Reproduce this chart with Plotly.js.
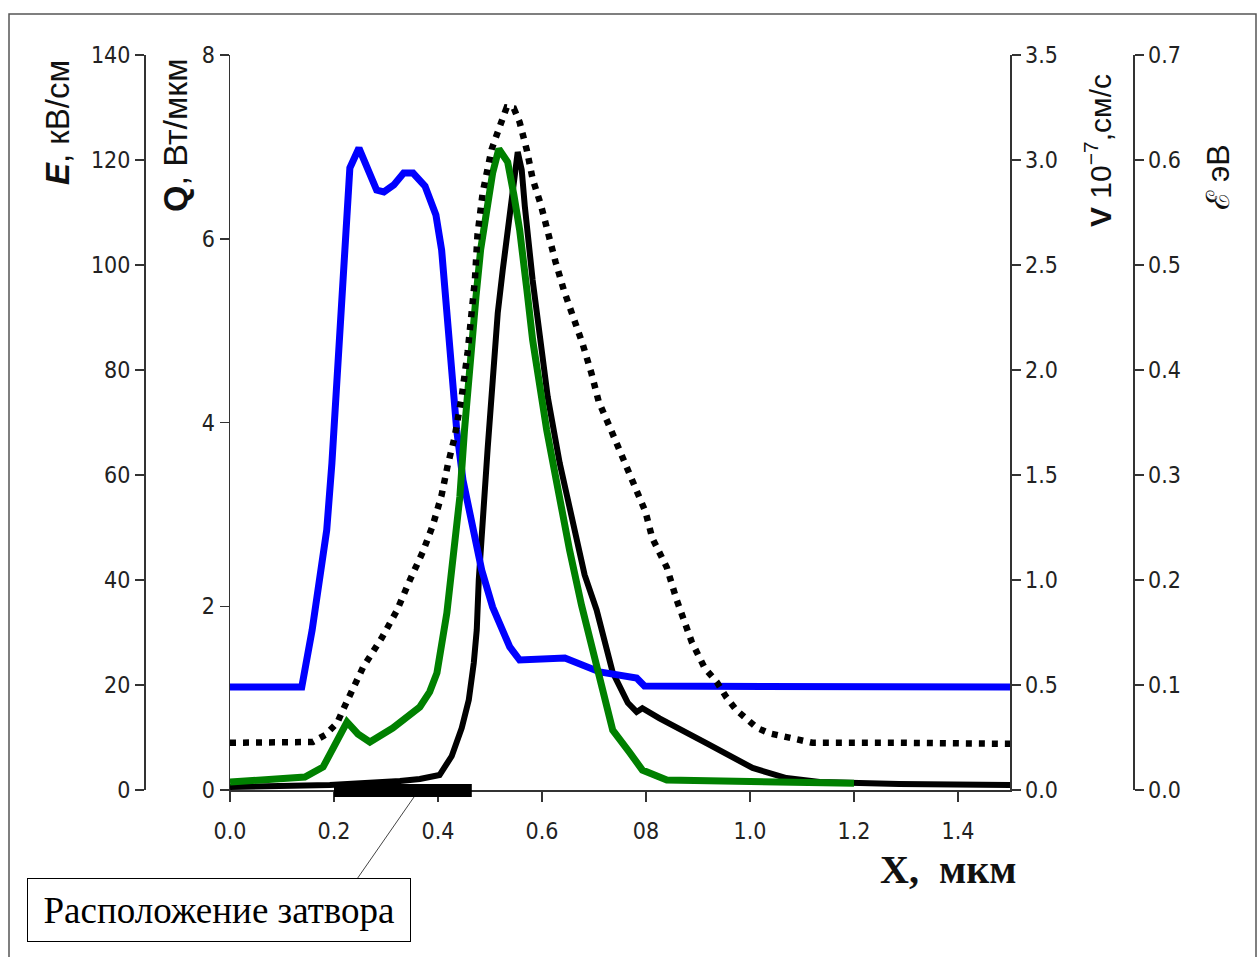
<!DOCTYPE html>
<html><head><meta charset="utf-8">
<script src="https://cdn.plot.ly/plotly-3.0.1.min.js"></script>
<style>html,body{margin:0;padding:0;background:#fff}</style>
</head><body><div id="chart" style="width:1257px;height:957px"></div>
<script>
// Position along the channel, µm
const velX = [0, 0.138, 0.158, 0.173, 0.186, 0.196, 0.202, 0.207, 0.215, 0.225, 0.2305, 0.248, 0.265, 0.282, 0.296, 0.315, 0.334, 0.352, 0.375, 0.396, 0.407, 0.413, 0.417, 0.427, 0.436, 0.448, 0.467, 0.484, 0.505, 0.538, 0.557, 0.644, 0.711, 0.782, 0.797, 1.134, 1.5];
// Electron velocity V, 10^7 cm/s (blue)
const velV = [0.49, 0.49, 0.762, 1.0, 1.238, 1.557, 1.795, 2.11, 2.381, 2.748, 2.962, 3.057, 2.952, 2.857, 2.848, 2.881, 2.938, 2.938, 2.876, 2.738, 2.571, 2.381, 2.238, 1.952, 1.714, 1.476, 1.238, 1.048, 0.871, 0.681, 0.619, 0.629, 0.562, 0.533, 0.495, 0.49, 0.49];

const fieldX = [0, 0.096, 0.144, 0.179, 0.202, 0.225, 0.246, 0.269, 0.313, 0.365, 0.384, 0.398, 0.417, 0.428, 0.442, 0.451, 0.461, 0.473, 0.482, 0.496, 0.505, 0.517, 0.534, 0.546, 0.557, 0.571, 0.582, 0.609, 0.634, 0.653, 0.676, 0.705, 0.736, 0.768, 0.793, 0.840, 1.018, 1.2];
// Electric field E, kV/cm (green)
const fieldE = [1.52, 2.29, 2.48, 4.38, 8.95, 12.95, 10.67, 9.14, 11.81, 15.81, 18.7, 22.3, 33.7, 43.2, 55.8, 68.6, 81.3, 93.9, 102.9, 111.05, 117.5, 122.1, 119.6, 113.3, 106.7, 95.2, 85.7, 68.6, 55.2, 45.7, 35.2, 23.4, 11.4, 7.2, 3.8, 1.9, 1.5, 1.3];

const heatX = [0, 0.192, 0.327, 0.365, 0.403, 0.4265, 0.4457, 0.4592, 0.4688, 0.4745, 0.4784, 0.4861, 0.4957, 0.5053, 0.5149, 0.5245, 0.5379, 0.5456, 0.5533, 0.561, 0.567, 0.582, 0.596, 0.611, 0.634, 0.659, 0.682, 0.705, 0.736, 0.765, 0.782, 0.793, 0.826, 0.916, 1.005, 1.070, 1.134, 1.287, 1.5];
// Heat release Q, W/µm (black)
const heatQ = [0.033, 0.054, 0.098, 0.12, 0.163, 0.37, 0.675, 0.98, 1.382, 1.741, 2.286, 3.015, 3.733, 4.463, 5.192, 5.66, 6.28, 6.639, 6.944, 6.75, 6.35, 5.55, 4.97, 4.28, 3.56, 2.91, 2.34, 1.96, 1.28, 0.95, 0.85, 0.89, 0.78, 0.51, 0.24, 0.13, 0.087, 0.065, 0.054];

const energyX = [0, 0.159, 0.183, 0.206, 0.217, 0.231, 0.256, 0.292, 0.321, 0.346, 0.371, 0.390, 0.407, 0.419, 0.432, 0.446, 0.457, 0.471, 0.476, 0.486, 0.496, 0.503, 0.513, 0.523, 0.532, 0.546, 0.557, 0.571, 0.582, 0.598, 0.611, 0.626, 0.642, 0.661, 0.678, 0.695, 0.709, 0.730, 0.753, 0.774, 0.799, 0.812, 0.840, 0.859, 0.888, 0.913, 0.936, 0.955, 0.974, 0.995, 1.014, 1.037, 1.070, 1.120, 1.287, 1.5];
// Electron energy, eV (dotted)
const energyEps = [0.045, 0.0457, 0.0524, 0.0638, 0.076, 0.0905, 0.117, 0.145, 0.171, 0.2, 0.227, 0.252, 0.281, 0.31, 0.336, 0.376, 0.417, 0.486, 0.529, 0.569, 0.595, 0.61, 0.624, 0.636, 0.65, 0.649, 0.636, 0.609, 0.582, 0.557, 0.53, 0.503, 0.476, 0.451, 0.425, 0.397, 0.37, 0.346, 0.319, 0.292, 0.265, 0.24, 0.212, 0.181, 0.141, 0.116, 0.103, 0.088, 0.076, 0.067, 0.059, 0.054, 0.05, 0.045, 0.045, 0.044];

const xTickVals = [0, 0.2, 0.4, 0.6, 0.8, 1.0, 1.2, 1.4];
const xTickText = ['0.0', '0.2', '0.4', '0.6', '08', '1.0', '1.2', '1.4'];
const gateRange = [0.2, 0.465];

const W = 1257, H = 957, MT = 55, MB = 167;
const PH = H - MT - MB;
const px = v => v / W;
const py = v => (H - MB - v) / PH;

const tickFont = {family: 'Liberation Sans Narrow, Arial Narrow, DejaVu Sans Condensed, Liberation Sans, Arial, sans-serif', size: 23, color: '#222'};
const axCommon = {
  showgrid: false, zeroline: false, showline: true, linecolor: '#333', linewidth: 1.5,
  ticks: 'outside', ticklen: 9, tickwidth: 1.5, tickcolor: '#333', tickfont: tickFont
};

const traces = [
  {x: energyX, y: energyEps, yaxis: 'y4', mode: 'lines', name: 'ε',
   line: {color: '#000', width: 6.5, dash: '6px,7px'}},
  {x: fieldX, y: fieldE, yaxis: 'y3', mode: 'lines', name: 'E',
   line: {color: '#008000', width: 7}},
  {x: velX, y: velV, yaxis: 'y2', mode: 'lines', name: 'V',
   line: {color: '#0000ff', width: 7}},
  {x: heatX, y: heatQ, yaxis: 'y', mode: 'lines', name: 'Q',
   line: {color: '#000', width: 6}}
];

const sans = 'Liberation Sans, Arial, sans-serif';
const serif = 'Liberation Serif, Times New Roman, serif';
const ann = (x, y, text, font, extra) => Object.assign({xref: 'paper', yref: 'paper', x: px(x), y: py(y),
  xanchor: 'center', yanchor: 'middle', showarrow: false, text: text, font: font}, extra || {});
const layout = {
  width: W, height: H, showlegend: false,
  margin: {l: 0, r: 0, t: MT, b: MB},
  paper_bgcolor: '#fff', plot_bgcolor: '#fff',
  xaxis: Object.assign({}, axCommon, {domain: [px(230), px(1010)], range: [0, 1.5],
    tickvals: xTickVals, ticktext: xTickText, ticklen: 10, ticklabelstandoff: 10, anchor: 'y'}),
  yaxis: Object.assign({}, axCommon, {range: [0, 8], dtick: 2, side: 'left', anchor: 'x'}),
  yaxis2: Object.assign({}, axCommon, {range: [0, 3.5], dtick: 0.5, tickformat: '.1f',
    side: 'right', overlaying: 'y', anchor: 'x'}),
  yaxis3: Object.assign({}, axCommon, {range: [0, 140], dtick: 20, side: 'left',
    overlaying: 'y', anchor: 'free', position: px(144)}),
  yaxis4: Object.assign({}, axCommon, {range: [0, 0.7], dtick: 0.1, tickformat: '.1f',
    side: 'right', overlaying: 'y', anchor: 'free', position: px(1133)}),
  shapes: [
    {type: 'rect', xref: 'paper', yref: 'paper', x0: px(9), x1: px(1256), y0: py(962), y1: py(14),
     line: {color: '#555', width: 1.5}, fillcolor: 'rgba(0,0,0,0)', layer: 'below'},
    {type: 'rect', xref: 'x', yref: 'paper', x0: gateRange[0], x1: gateRange[1], y0: py(797), y1: py(784),
     line: {width: 0}, fillcolor: '#000'},
    {type: 'line', xref: 'paper', yref: 'paper', x0: px(414), y0: py(797), x1: px(357), y1: py(879),
     line: {color: '#444', width: 1}}
  ],
  annotations: [
    ann(57, 123, '<b><i>E</i></b>, кВ/см', {family: sans, size: 33, color: '#111'}, {textangle: -90}),
    ann(175, 135, '<b>Q</b>, Вт/мкм', {family: sans, size: 34, color: '#111'}, {textangle: -90}),
    ann(1098, 151, '<b>V</b> 10<sup>−7</sup>,см/с', {family: sans, size: 30, color: '#111'}, {textangle: -90}),
    ann(1218, 177, 'ℰ эВ', {family: sans, size: 32, color: '#111'}, {textangle: -90}),
    ann(948, 870, '<b>X,  мкм</b>', {family: serif, size: 40, color: '#111'}),
    ann(219, 910, 'Расположение затвора', {family: serif, size: 37, color: '#000'},
      {bordercolor: '#000', borderwidth: 1, borderpad: 10, bgcolor: '#fff', width: 362, height: 42})
  ]
};

Plotly.newPlot('chart', traces, layout, {displayModeBar: false, staticPlot: true});
</script>
</body></html>
